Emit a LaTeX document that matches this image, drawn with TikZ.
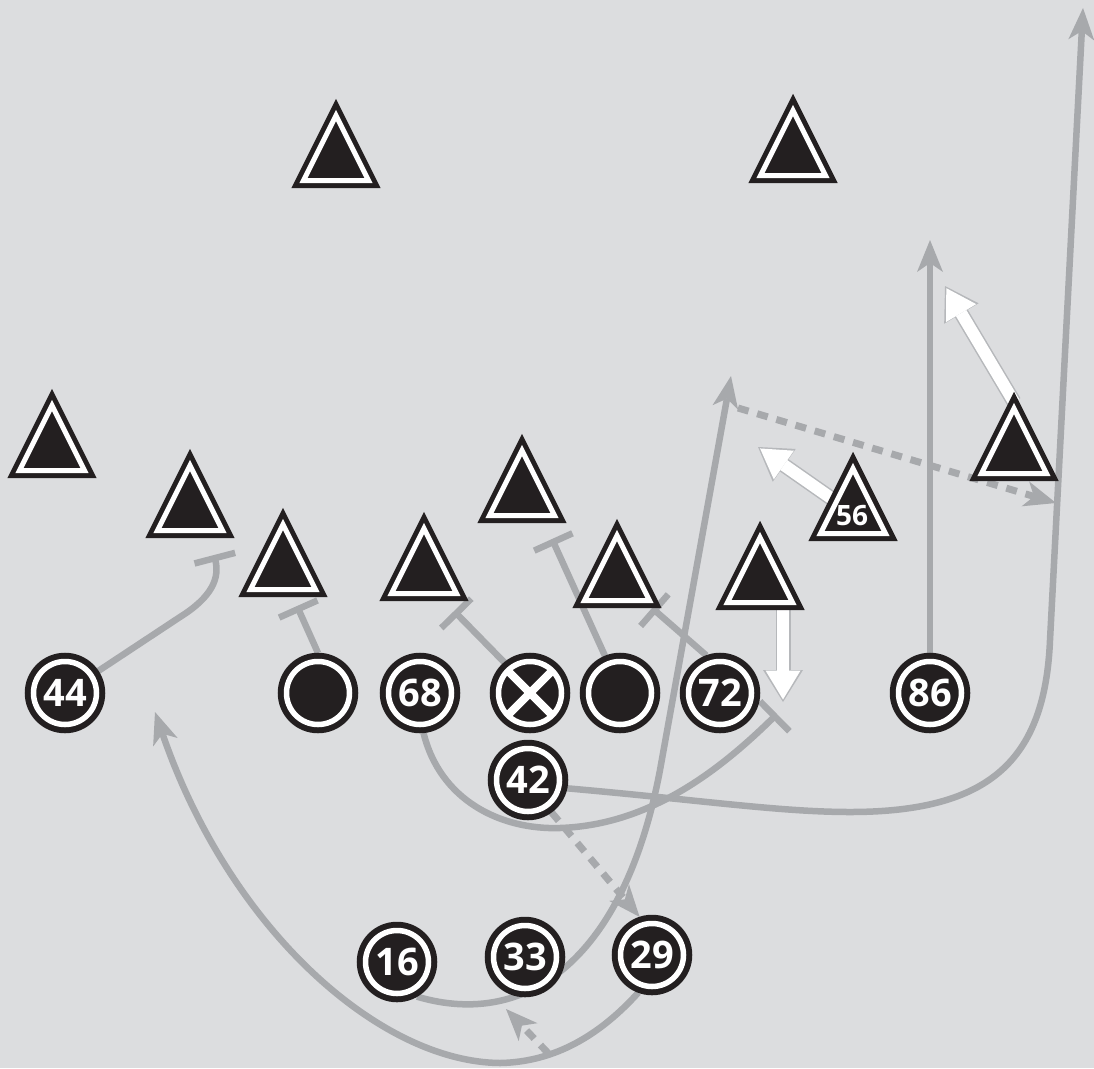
\documentclass[tikz,border=0pt]{standalone}
\usepackage{fontspec}
\newfontfamily\numfont{Open Sans}
\usetikzlibrary{arrows.meta, shapes.geometric}
\definecolor{fieldbg}{RGB}{220,221,223}
\definecolor{routegray}{RGB}{167,169,172}
\definecolor{inkblack}{RGB}{35,31,32}
\definecolor{edgegray}{RGB}{182,184,187}
\pgfdeclarelayer{field}
\pgfdeclarelayer{routes}
\pgfsetlayers{field,routes,main}

\begin{document}
\begin{tikzpicture}[
  x=1pt, y=-1pt,
  player/.style={circle, minimum size=63pt, inner sep=0pt, outer sep=8.5pt,
    fill=inkblack, draw=inkblack, line width=6pt, double=white, double distance=5.5pt,
    text=white, font=\numfont\bfseries\fontsize{38}{38}\selectfont},
  defender/.style={isosceles triangle, isosceles triangle stretches, shape border rotate=90,
    minimum width=65pt, minimum height=65pt, inner sep=0pt, anchor=apex,
    fill=inkblack, draw=inkblack, line width=5pt, double=white, double distance=5pt},
  digit/.style={text=white, inner sep=0pt, font=\numfont\bfseries\fontsize{28}{28}\selectfont},
  route/.style={routegray, line width=6.5pt},
  dotroute/.style={routegray, line width=7pt, dash pattern=on 11pt off 9pt},
  runend/.style={-{Stealth[length=32pt, width=26pt, inset=9pt, line width=0pt]}},
  blockend/.style={-{Bar[width=42pt]}},
  readarrow/.style={white, line width=12pt, shorten >=2.5pt,
    -{Triangle[length=29pt, width=35pt, line width=0pt]},
    preaction={draw=edgegray, line width=15pt, shorten >=0pt,
      -{Triangle[length=32pt, width=40pt, line width=0pt]}}}
]
\begin{pgfonlayer}{field}
\fill[fieldbg] (0,0) rectangle (1094,1068);
\end{pgfonlayer}
\useasboundingbox (0,0) rectangle (1094,1068);

% offense
\node[player] (wr44) at (65,693) {44};
\node[player] (lt) at (318,693) {};
\node[player] (lg68) at (420,693) {68};
\node[player] (ctr) at (530,693) {};
\node[player] (rg) at (620,693) {};
\node[player] (rt72) at (720,693) {72};
\node[player] (te86) at (930,693) {86};
\node[player] (qb42) at (528,780) {42};
\node[player] (rb16) at (397,962) {16};
\node[player] (rb33) at (525,957) {33};
\node[player] (rb29) at (652,955) {29};
\draw[white, line width=8pt] ([shift={(45:30pt)}]ctr.center) -- ([shift={(225:30pt)}]ctr.center)
  ([shift={(135:30pt)}]ctr.center) -- ([shift={(-45:30pt)}]ctr.center);

% defense
\node[defender] (fs1) at (336,109) {};
\node[defender] (fs2) at (793,104) {};
\node[defender] (cb3) at (52,399) {};
\node[defender] (de4) at (190,459) {};
\node[defender] (dt5) at (283,518) {};
\node[defender] (dt6) at (424,522) {};
\node[defender] (lb7) at (522,444) {};
\node[defender] (dt8) at (617,529) {};
\node[defender] (de9) at (760,531) {};
\node[defender] (lb56) at (853,462) {};
\node[defender] (cb11) at (1014,402) {};
\node[digit] (lb56num) at (852,516) {56};

\coordinate (te86end) at (930,240);
\coordinate (qb42end) at (1083,8);
\coordinate (rb16end) at (731,376);
\coordinate (rb29end) at (155,712);
\coordinate (fake1) at (548,1053);
\coordinate (fake1end) at (506,1009);
\coordinate (mot1) at (738,408);
\coordinate (mot1end) at (1056,503);
\coordinate (cb11end) at (945,286);
\coordinate (lb56end) at (758,447);
\coordinate (de9end) at (783,702);

\begin{pgfonlayer}{routes}
% blocks
\draw[route, blockend] (wr44) -- (180,617) .. controls (212,597) and (220,578) .. (214,555);
\draw[route, blockend] (lt.north) -- (297,606);
\draw[route, blockend] (ctr.130) -- (454,611);
\draw[route, blockend] (rg.112) -- (552,539);
\draw[route, blockend] (rt72.110) -- (652,608);
\draw[route, blockend] (lg68.-85) .. controls (440,800) and (500,830) .. (560,828)
  .. controls (650,825) and (720,770) .. (777,714);

% runs
\draw[route, runend] (te86) -- (te86end);
\draw[route, runend] (qb42.-12) .. controls (700,800) and (780,812) .. (850,812)
  .. controls (990,812) and (1045,760) .. (1050,640) -- (qb42end);
\draw[route, runend] (rb16.-60) .. controls (530,1030) and (625,955) .. (660,770) -- (rb16end);
\draw[route, runend] (rb29.-110) .. controls (600,1035) and (555,1062) .. (500,1063)
  .. controls (380,1062) and (230,930) .. (rb29end);

% dotted
\draw[dotroute, runend] (qb42.-54) -- (rb29.108);
\draw[dotroute, runend] (fake1) -- (fake1end);
\draw[dotroute, runend] (mot1) -- (mot1end);

% reads
\draw[readarrow] (cb11.apex) -- (cb11end);
\draw[readarrow] (lb56.center) -- (lb56end);
\draw[readarrow] (de9.south -| de9end) -- (de9end);
\end{pgfonlayer}
\end{tikzpicture}
\end{document}
